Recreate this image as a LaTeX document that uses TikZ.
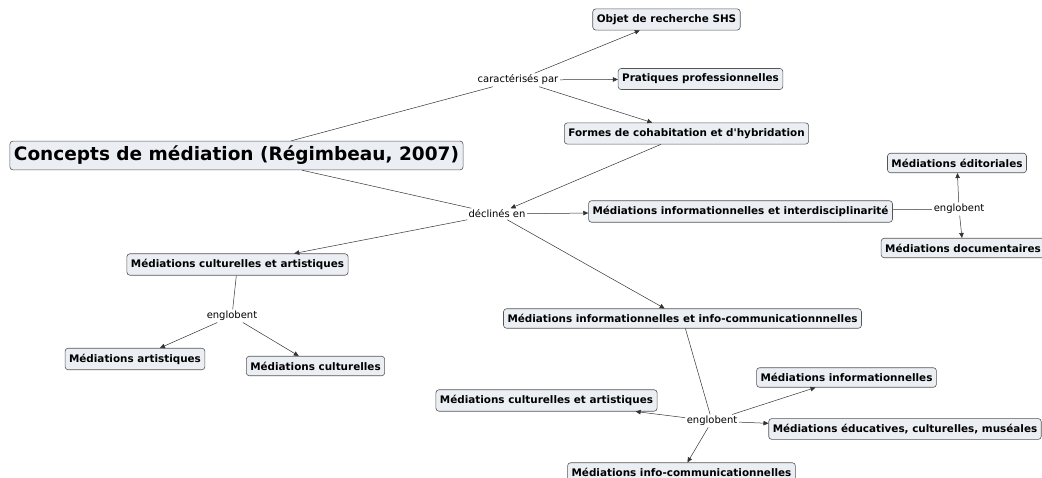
\documentclass[tikz,border=0pt]{standalone}
\usepackage{fontspec}
\setmainfont{DejaVu Sans}
\usetikzlibrary{arrows.meta}
\definecolor{boxfill}{HTML}{EBEFF4}
\definecolor{boxline}{HTML}{555555}
\definecolor{edge}{HTML}{333333}
\tikzset{
  concept/.style={draw=boxline, fill=boxfill, rounded corners=3pt, line width=0.6pt,
    font=\bfseries\fontsize{10.4}{12}\selectfont, inner xsep=4pt, inner ysep=5.5pt},
  bigconcept/.style={concept, font=\bfseries\fontsize{18.5}{21}\selectfont, inner ysep=5pt},
  linklabel/.style={font=\fontsize{10}{12}\selectfont, inner sep=1.5pt, fill=white},
  plain/.style={draw=edge, line width=0.5pt},
  arr/.style={plain, -{Triangle[length=5pt,width=4.5pt]}},
}
\begin{document}
\begin{tikzpicture}[x=1pt,y=-1pt]
\useasboundingbox (0,0) rectangle (1042,478);
\clip (0,0) rectangle (1042,478);
% nodes
\node[bigconcept] (main) at (236.5,155.5) {Concepts de médiation (Régimbeau, 2007)};
\node[concept] (objet) at (666.5,19.5) {Objet de recherche SHS};
\node[concept] (prat) at (700.5,79) {Pratiques professionnelles};
\node[concept] (formes) at (686.5,133.5) {Formes de cohabitation et d\textquotesingle hybridation};
\node[linklabel] (carac) at (518,80) {caractérisés par};
\node[linklabel] (decl) at (497,214) {déclinés en};
\node[concept] (mii) at (740.5,211.5) {Médiations informationnelles et interdisciplinarité};
\node[linklabel] (eng1) at (959,209) {englobent};
\node[concept] (edit) at (957,163) {Médiations éditoriales};
\node[concept] (docu) at (963,248) {Médiations documentaires};
\node[concept] (mca) at (237.5,264.5) {Médiations culturelles et artistiques};
\node[linklabel] (eng2) at (232,316) {englobent};
\node[concept] (art) at (135,359) {Médiations artistiques};
\node[concept] (cult) at (315.5,366) {Médiations culturelles};
\node[concept] (miic) at (682.5,318.5) {Médiations informationnelles et info-communicationnnelles};
\node[linklabel] (eng3) at (712,421) {englobent};
\node[concept] (minf) at (846.5,377.5) {Médiations informationnelles};
\node[concept] (mca2) at (546.5,400.5) {Médiations culturelles et artistiques};
\node[concept] (educ) at (905,429) {Médiations éducatives, culturelles, muséales};
\node[concept] (ic) at (681.5,472.5) {Médiations info-communicationnelles};
% connectors
\draw[plain] (main) -- (carac);
\draw[arr] (carac) -- (objet);
\draw[arr] (carac) -- (prat);
\draw[arr] (carac) -- (formes);
\draw[plain] (main) -- (decl);
\draw[arr] (formes) -- (decl);
\draw[arr] (decl) -- (mii);
\draw[arr] (decl) -- (mca);
\draw[arr] (decl) -- (miic);
\draw[plain] (mii) -- (eng1);
\draw[arr] (eng1) -- (edit);
\draw[arr] (eng1) -- (docu);
\draw[plain] (mca) -- (eng2);
\draw[arr] (eng2) -- (art);
\draw[arr] (eng2) -- (cult);
\draw[plain] (miic) -- (eng3);
\draw[arr] (eng3) -- (minf);
\draw[arr] (eng3) -- (mca2);
\draw[arr] (eng3) -- (educ);
\draw[arr] (eng3) -- (ic);
\end{tikzpicture}
\end{document}
